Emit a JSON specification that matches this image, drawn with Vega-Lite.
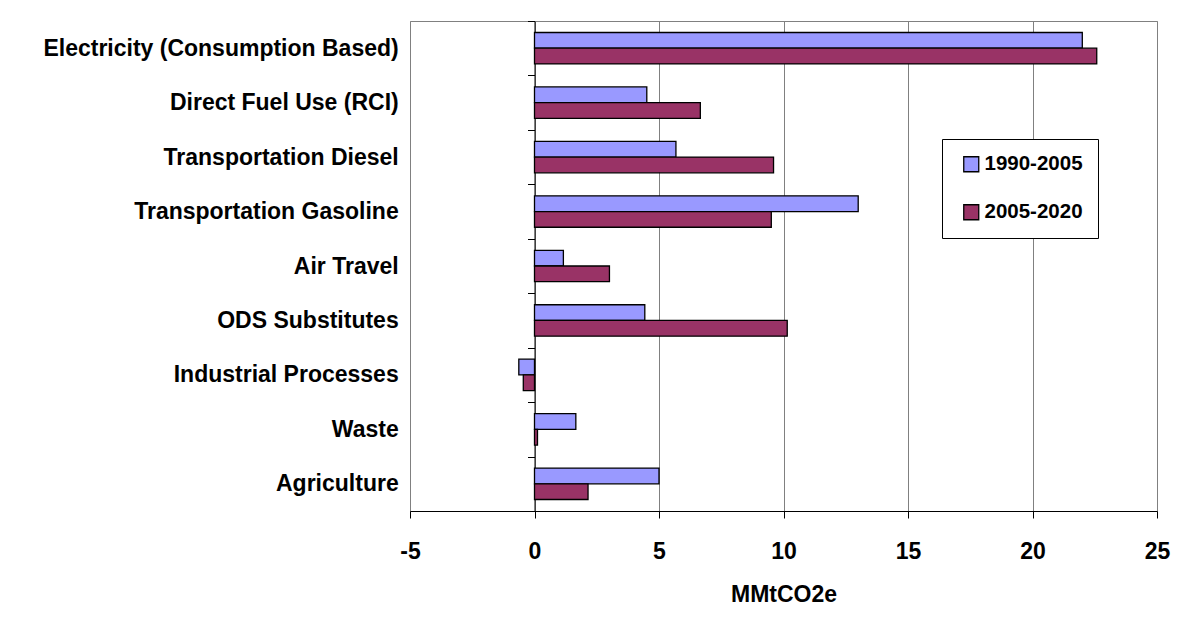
{
  "$schema": "https://vega.github.io/schema/vega-lite/v6.json",
  "width": 747,
  "height": 490,
  "autosize": "none",
  "padding": {"left": 410, "top": 21, "right": 29, "bottom": 120},
  "background": "white",
  "config": {
    "view": {"stroke": "#808080", "strokeWidth": 1},
    "font": "Liberation Sans"
  },
  "data": {
    "values": [
      {"source": "Electricity (Consumption Based)", "period": "1990-2005", "value": 22.0},
      {"source": "Electricity (Consumption Based)", "period": "2005-2020", "value": 22.58},
      {"source": "Direct Fuel Use (RCI)", "period": "1990-2005", "value": 4.51},
      {"source": "Direct Fuel Use (RCI)", "period": "2005-2020", "value": 6.66},
      {"source": "Transportation Diesel", "period": "1990-2005", "value": 5.68},
      {"source": "Transportation Diesel", "period": "2005-2020", "value": 9.6},
      {"source": "Transportation Gasoline", "period": "1990-2005", "value": 13.0},
      {"source": "Transportation Gasoline", "period": "2005-2020", "value": 9.51},
      {"source": "Air Travel", "period": "1990-2005", "value": 1.16},
      {"source": "Air Travel", "period": "2005-2020", "value": 3.01},
      {"source": "ODS Substitutes", "period": "1990-2005", "value": 4.43},
      {"source": "ODS Substitutes", "period": "2005-2020", "value": 10.15},
      {"source": "Industrial Processes", "period": "1990-2005", "value": -0.63},
      {"source": "Industrial Processes", "period": "2005-2020", "value": -0.45},
      {"source": "Waste", "period": "1990-2005", "value": 1.66},
      {"source": "Waste", "period": "2005-2020", "value": 0.12},
      {"source": "Agriculture", "period": "1990-2005", "value": 5.0},
      {"source": "Agriculture", "period": "2005-2020", "value": 2.15}
    ]
  },
  "mark": {"type": "bar", "stroke": "black", "strokeWidth": 1.3},
  "encoding": {
    "y": {
      "field": "source",
      "type": "nominal",
      "sort": [
        "Electricity (Consumption Based)",
        "Direct Fuel Use (RCI)",
        "Transportation Diesel",
        "Transportation Gasoline",
        "Air Travel",
        "ODS Substitutes",
        "Industrial Processes",
        "Waste",
        "Agriculture"
      ],
      "scale": {"paddingInner": 0, "paddingOuter": 0},
      "axis": {
        "title": null,
        "offset": -124.5,
        "domainColor": "black",
        "domainWidth": 1,
        "tickColor": "black",
        "tickSize": 7,
        "tickBand": "extent",
        "labelPadding": 129.3,
        "labelFontSize": 23,
        "labelFontWeight": "bold",
        "labelColor": "black",
        "labelLimit": 0,
        "grid": false
      }
    },
    "yOffset": {
      "field": "period",
      "type": "nominal",
      "sort": ["1990-2005", "2005-2020"],
      "scale": {"paddingInner": 0, "paddingOuter": 0.733}
    },
    "x": {
      "field": "value",
      "type": "quantitative",
      "scale": {"domain": [-5, 25], "nice": false, "zero": false},
      "axis": {
        "title": "MMtCO2e",
        "values": [-5, 0, 5, 10, 15, 20, 25],
        "labelExpr": "datum.value < 0 ? '-' + abs(datum.value) : '' + datum.value",
        "grid": true,
        "gridColor": "#808080",
        "gridWidth": 1,
        "domainColor": "black",
        "tickColor": "black",
        "tickSize": 7,
        "labelFlush": false,
        "labelFontSize": 23,
        "labelFontWeight": "bold",
        "labelPadding": 22,
        "labelColor": "black",
        "titleFontSize": 23,
        "titleFontWeight": "bold",
        "titleColor": "black",
        "titleBaseline": "alphabetic",
        "titleY": 90.7
      }
    },
    "color": {
      "field": "period",
      "type": "nominal",
      "scale": {"domain": ["1990-2005", "2005-2020"], "range": ["#9999FF", "#993366"]},
      "legend": {
        "title": null,
        "orient": "none",
        "legendX": 532,
        "legendY": 118,
        "direction": "vertical",
        "fillColor": "white",
        "strokeColor": "black",
        "padding": 15,
        "symbolType": "square",
        "symbolSize": 225,
        "symbolStrokeColor": "black",
        "symbolStrokeWidth": 1.3,
        "symbolOpacity": 1,
        "symbolOffset": 4,
        "labelFontSize": 20.5,
        "labelFontWeight": "bold",
        "labelColor": "black",
        "labelOffset": 3,
        "rowPadding": 27
      }
    }
  }
}
